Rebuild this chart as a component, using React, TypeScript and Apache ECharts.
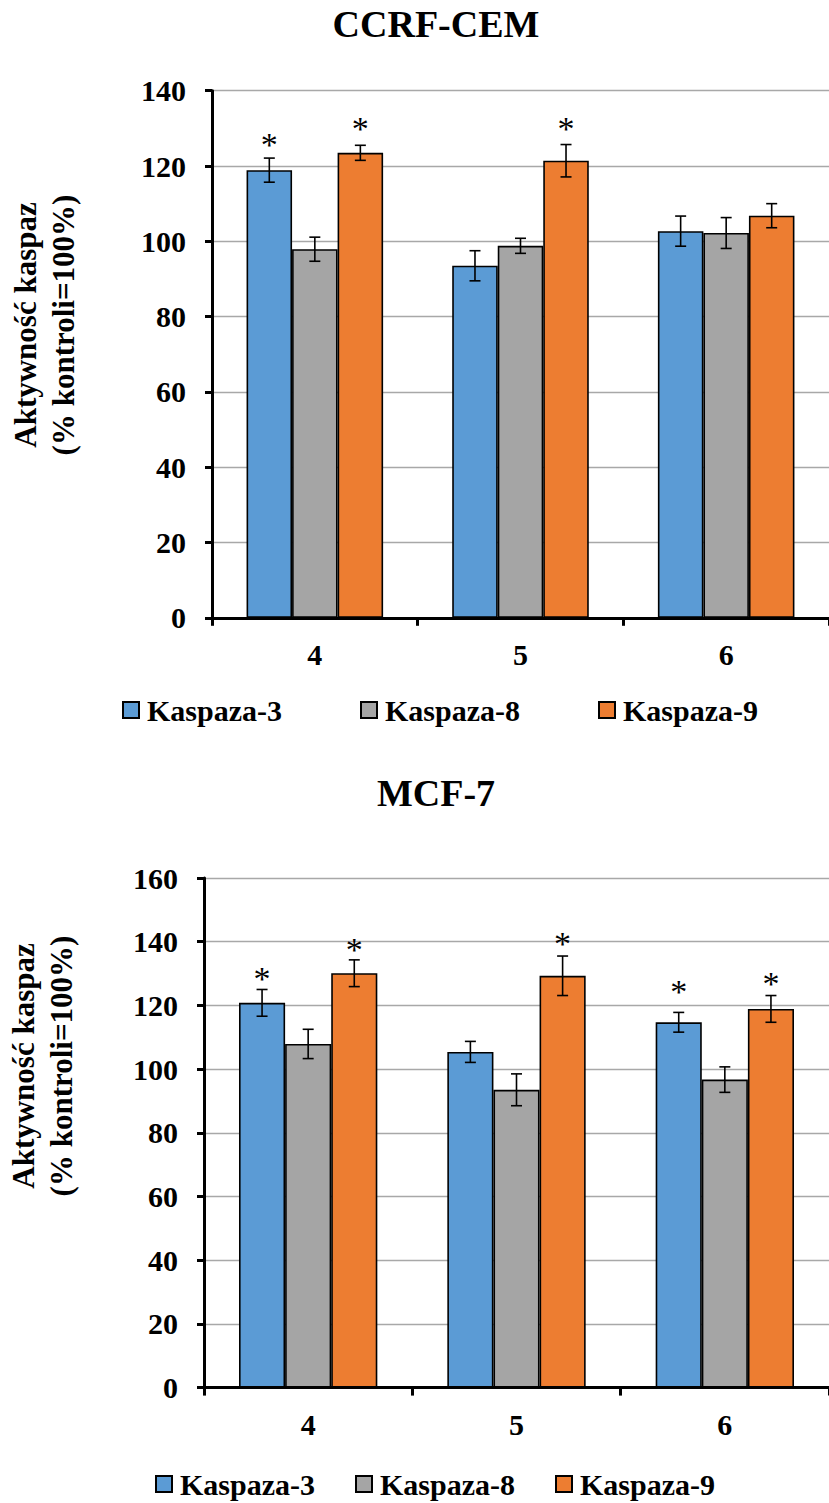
import React, { useEffect, useRef } from "react";
import * as echarts from "echarts";

const categories = ["4", "5", "6"];
const seriesNames = ["Kaspaza-3", "Kaspaza-8", "Kaspaza-9"];
const colors = ["#5B9BD5", "#A5A5A5", "#ED7D31"];

// CCRF-CEM
const ccrfK3 = [118.9, 93.5, 102.7];
const ccrfK8 = [97.9, 98.8, 102.2];
const ccrfK9 = [123.5, 121.4, 106.8];
const ccrfK3Err = [3.2, 4.0, 4.0];
const ccrfK8Err = [3.2, 2.0, 4.1];
const ccrfK9Err = [2.0, 4.3, 3.2];
const ccrfK3Star = [127.8, null, null];
const ccrfK8Star = [null, null, null];
const ccrfK9Star = [132.2, 132.0, null];

// MCF-7
const mcfK3 = [120.8, 105.4, 114.7];
const mcfK8 = [107.9, 93.5, 96.7];
const mcfK9 = [130.1, 129.3, 118.9];
const mcfK3Err = [4.2, 3.3, 3.1];
const mcfK8Err = [4.6, 5.0, 4.0];
const mcfK9Err = [4.2, 6.2, 4.2];
const mcfK3Star = [131.1, null, 126.8];
const mcfK8Star = [null, null, null];
const mcfK9Star = [140.0, 141.8, 129.3];

const yTicksTop = { min: 0, max: 140, interval: 20 };
const yTicksBottom = { min: 0, max: 160, interval: 20 };

const FONT = "Liberation Serif";
const CAT_GAP = 0.336;

function errData(vals: number[][], errs: number[][], stars: (number | null)[][]) {
  const out: any[] = [];
  for (let s = 0; s < vals.length; s++) {
    for (let c = 0; c < vals[s].length; c++) {
      const v = vals[s][c];
      const e = errs[s][c];
      const st = stars[s][c];
      out.push([c, s, v - e, v + e, st == null ? "-" : st]);
    }
  }
  return out;
}

function renderErr(params: any, api: any) {
  const cat = api.value(0);
  const si = api.value(1);
  const lo = api.value(2);
  const hi = api.value(3);
  const star = api.value(4);
  const band = api.size([1, 0])[0];
  const barW = (band * (1 - CAT_GAP)) / 3;
  const cx = api.coord([cat, 0])[0] + (si - 1) * barW;
  const yLo = api.coord([cat, lo])[1];
  const yHi = api.coord([cat, hi])[1];
  const cap = 5.5;
  const ls = { stroke: "#000", lineWidth: 1.6 };
  const children: any[] = [
    { type: "line", shape: { x1: cx, y1: yLo, x2: cx, y2: yHi }, style: ls },
    { type: "line", shape: { x1: cx - cap, y1: yLo, x2: cx + cap, y2: yLo }, style: ls },
    { type: "line", shape: { x1: cx - cap, y1: yHi, x2: cx + cap, y2: yHi }, style: ls },
  ];
  if (!isNaN(star)) {
    const ys = api.coord([cat, star])[1];
    children.push({
      type: "text",
      x: cx,
      y: ys + 8,
      style: {
        text: "*",
        fill: "#000",
        fontFamily: FONT,
        fontSize: 34,
        fontWeight: "normal",
        align: "center",
        verticalAlign: "middle",
      },
    });
  }
  return { type: "group", children };
}

export default function App() {
  const ref = useRef<HTMLDivElement>(null);
  useEffect(() => {
    document.body.style.margin = "0";
    const chart = echarts.init(ref.current!, null, { renderer: "svg" });
    const axisLabelStyle = { fontFamily: FONT, fontWeight: "bold", fontSize: 30, color: "#000" };
    const xAxisCommon = {
      type: "category",
      data: categories,
      axisLine: { lineStyle: { color: "#000", width: 3 } },
      axisTick: { show: true, length: 8, lineStyle: { color: "#000", width: 3 } },
      axisLabel: { ...axisLabelStyle, margin: 22 },
      splitLine: { show: false },
    };
    const yAxisCommon = {
      type: "value",
      axisLine: { show: true, lineStyle: { color: "#000", width: 3 } },
      axisTick: { show: true, length: 7, lineStyle: { color: "#000", width: 3 } },
      axisLabel: { ...axisLabelStyle, margin: 26 },
      splitLine: { show: true, lineStyle: { color: "#A8A8A8", width: 1.3 } },
    };
    const bar = (name: string, data: number[], idx: number, color: string) => ({
      type: "bar",
      name,
      data,
      xAxisIndex: idx,
      yAxisIndex: idx,
      barGap: "0%",
      barCategoryGap: "33.6%",
      itemStyle: { color, borderColor: "#000", borderWidth: 1.6 },
      z: 2,
    });
    const legendCommon = {
      icon: "rect",
      itemWidth: 16,
      itemHeight: 16,
      padding: 0,
      selectedMode: false,
      data: seriesNames,
      textStyle: { fontFamily: FONT, fontWeight: "bold", fontSize: 30, color: "#000", padding: [0, 0, 0, 3] },
    };
    const titleText = (text: string, y: number) => ({
      type: "text",
      x: 436,
      y,
      style: {
        text,
        fill: "#000",
        fontFamily: FONT,
        fontSize: 38,
        fontWeight: "bold",
        align: "center",
        verticalAlign: "middle",
      },
    });
    const yName = (x: number, y: number) => ({
      type: "text",
      x,
      y,
      rotation: Math.PI / 2,
      style: {
        text: "Aktywność kaspaz\n(% kontroli=100%)",
        fill: "#000",
        fontFamily: FONT,
        fontSize: 31,
        fontWeight: "bold",
        lineHeight: 38,
        align: "center",
        verticalAlign: "middle",
      },
    });
    chart.setOption({
      animation: false,
      backgroundColor: "#fff",
      grid: [
        { left: 212, top: 90.7, right: -1, height: 527.1 },
        { left: 204, top: 878, right: -7, height: 509.6 },
      ],
      xAxis: [
        { ...xAxisCommon, gridIndex: 0 },
        { ...xAxisCommon, gridIndex: 1 },
      ],
      yAxis: [
        { ...yAxisCommon, gridIndex: 0, ...yTicksTop },
        { ...yAxisCommon, gridIndex: 1, ...yTicksBottom },
      ],
      legend: [
        { ...legendCommon, left: 122, top: 695, itemGap: 78 },
        { ...legendCommon, left: 155, top: 1469, itemGap: 40 },
      ],
      graphic: [titleText("CCRF-CEM", 23.5), titleText("MCF-7", 793), yName(44.5, 325), yName(42.5, 1066)],
      series: [
        bar(seriesNames[0], ccrfK3, 0, colors[0]),
        bar(seriesNames[1], ccrfK8, 0, colors[1]),
        bar(seriesNames[2], ccrfK9, 0, colors[2]),
        bar(seriesNames[0], mcfK3, 1, colors[0]),
        bar(seriesNames[1], mcfK8, 1, colors[1]),
        bar(seriesNames[2], mcfK9, 1, colors[2]),
        {
          type: "custom",
          name: "err-ccrf",
          xAxisIndex: 0,
          yAxisIndex: 0,
          renderItem: renderErr,
          encode: { x: 0, y: [2, 3] },
          clip: false,
          z: 5,
          silent: true,
          data: errData([ccrfK3, ccrfK8, ccrfK9], [ccrfK3Err, ccrfK8Err, ccrfK9Err], [ccrfK3Star, ccrfK8Star, ccrfK9Star]),
        },
        {
          type: "custom",
          name: "err-mcf",
          xAxisIndex: 1,
          yAxisIndex: 1,
          renderItem: renderErr,
          encode: { x: 0, y: [2, 3] },
          clip: false,
          z: 5,
          silent: true,
          data: errData([mcfK3, mcfK8, mcfK9], [mcfK3Err, mcfK8Err, mcfK9Err], [mcfK3Star, mcfK8Star, mcfK9Star]),
        },
      ],
    });
    return () => chart.dispose();
  }, []);
  return (
    <div
      ref={ref}
      style={{ position: "absolute", left: 0, top: 0, width: 829, height: 1503 }}
    />
  );
}
